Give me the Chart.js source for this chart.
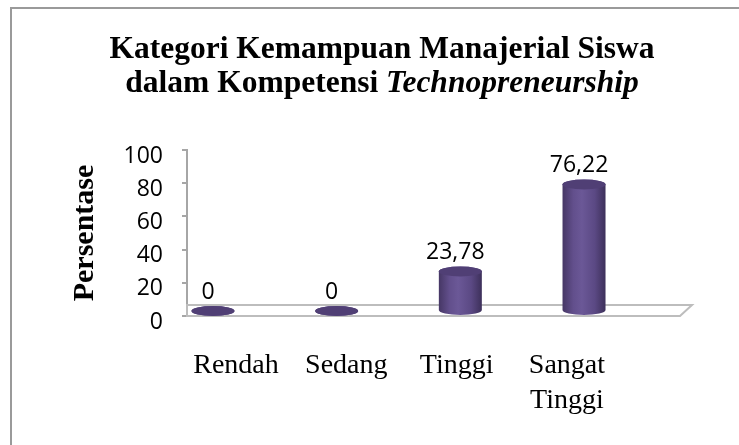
<!DOCTYPE html>
<html><head><meta charset="utf-8">
<script src="https://cdn.jsdelivr.net/npm/chart.js@4/dist/chart.umd.min.js"></script>
<style>html,body{margin:0;padding:0;background:#fff;}canvas{display:block;}</style>
</head><body>
<canvas id="c" width="739" height="445"></canvas>
<script>
// ---- data ----
const titleLine1 = 'Kategori Kemampuan Manajerial Siswa';
const titleLine2Plain = 'dalam Kompetensi ';
const titleLine2Italic = 'Technopreneurship';
const yAxisTitle = 'Persentase';
const categories = ['Rendah', 'Sedang', 'Tinggi', 'Sangat Tinggi'];
const values = [0, 0, 23.78, 76.22];
const yTicks = [0, 20, 40, 60, 80, 100];

// ---- style constants ----
const SERIF = '"Liberation Serif", "Times New Roman", serif';
const SANS = '"Open Sans", "Noto Sans", sans-serif';
const DEPTH_X = 12, DEPTH_Y = 11, BAR_SHIFT = -5, ELL_RY = 5;

function fmt(v) { return Number.isInteger(v) ? String(v) : v.toFixed(2).replace('.', ','); }

const deco = {
  id: 'deco',
  beforeDraw(chart) {
    const ctx = chart.ctx;
    ctx.save();
    ctx.fillStyle = '#fff';
    ctx.fillRect(0, 0, chart.width, chart.height);
    ctx.strokeStyle = '#9a9a9a';
    ctx.lineWidth = 2;
    ctx.beginPath();
    ctx.moveTo(11, chart.height);
    ctx.lineTo(11, 8);
    ctx.lineTo(chart.width, 8);
    ctx.stroke();
    ctx.restore();
  },
  beforeDatasetsDraw(chart) {
    const ctx = chart.ctx, a = chart.chartArea;
    const y0 = chart.scales.y.getPixelForValue(0);
    ctx.save();
    ctx.beginPath();
    ctx.moveTo(a.left, y0);
    ctx.lineTo(a.right, y0);
    ctx.lineTo(a.right + DEPTH_X, y0 - DEPTH_Y);
    ctx.lineTo(a.left, y0 - DEPTH_Y);
    ctx.closePath();
    ctx.fillStyle = '#ffffff';
    ctx.fill();
    ctx.strokeStyle = '#bdbdbd';
    ctx.lineWidth = 2;
    ctx.stroke();
    ctx.restore();
  },
  afterDatasetsDraw(chart) {
    const ctx = chart.ctx;
    const meta = chart.getDatasetMeta(0);
    ctx.save();
    meta.data.forEach((el, i) => {
      const cx = el.x, rx = el.width / 2;
      const top = el.y + BAR_SHIFT, bot = el.base + BAR_SHIFT;
      const g = ctx.createLinearGradient(cx - rx, 0, cx + rx, 0);
      g.addColorStop(0, '#463765');
      g.addColorStop(0.25, '#624f8c');
      g.addColorStop(0.45, '#6b5897');
      g.addColorStop(0.75, '#5b4984');
      g.addColorStop(1, '#3d305a');
      ctx.beginPath();
      ctx.moveTo(cx - rx, top);
      ctx.lineTo(cx - rx, bot);
      ctx.ellipse(cx, bot, rx, ELL_RY, 0, Math.PI, 0, true);
      ctx.lineTo(cx + rx, top);
      ctx.ellipse(cx, top, rx, ELL_RY, 0, 0, Math.PI, true);
      ctx.closePath();
      ctx.fillStyle = g;
      ctx.fill();
      ctx.beginPath();
      ctx.ellipse(cx, top, rx, ELL_RY, 0, 0, Math.PI * 2);
      ctx.fillStyle = '#503f75';
      ctx.fill();
      // data label
      ctx.fillStyle = '#000';
      ctx.font = '23px ' + SANS;
      ctx.textAlign = 'center';
      ctx.textBaseline = 'middle';
      ctx.fillText(fmt(values[i]), cx - 5, top - 19);
    });
    ctx.restore();
  },
  afterDraw(chart) {
    const ctx = chart.ctx;
    const cx = 382;
    ctx.save();
    ctx.fillStyle = '#000';
    ctx.textBaseline = 'alphabetic';
    ctx.textAlign = 'center';
    ctx.font = 'bold 31.5px ' + SERIF;
    ctx.fillText(titleLine1, cx, 58);
    const fPlain = 'bold 31.5px ' + SERIF, fItal = 'italic bold 31.5px ' + SERIF;
    ctx.font = fPlain; const w1 = ctx.measureText(titleLine2Plain).width;
    ctx.font = fItal; const w2 = ctx.measureText(titleLine2Italic).width;
    const sx = cx - (w1 + w2) / 2;
    ctx.textAlign = 'left';
    ctx.font = fPlain; ctx.fillText(titleLine2Plain, sx, 92);
    ctx.font = fItal; ctx.fillText(titleLine2Italic, sx + w1, 92);
    ctx.restore();
  }
};

new Chart(document.getElementById('c'), {
  type: 'bar',
  data: {
    datasets: [{
      data: values.map((v, i) => ({ x: i, y: v })),
      backgroundColor: 'rgba(0,0,0,0)',
      borderWidth: 0,
      barThickness: 43
    }]
  },
  options: {
    responsive: false,
    animation: false,
    devicePixelRatio: 1,
    layout: { padding: { top: 150, left: 12, right: 59, bottom: 0 } },
    plugins: { legend: { display: false }, tooltip: { enabled: false }, title: { display: false } },
    scales: {
      x: { type: 'linear', display: false, min: -0.21, max: 3.776, offset: false, grid: { offset: false } },
      xl: {
        type: 'linear', position: 'bottom', min: -0.444, max: 4.025, offset: false,
        afterBuildTicks: s => { s.ticks = categories.map((_, i) => ({ value: i })); },
        afterFit: s => { s.height = 129; },
        grid: { display: false, drawTicks: false, offset: false },
        border: { display: false },
        ticks: {
          autoSkip: false, maxRotation: 0, minRotation: 0, padding: 32, color: '#000',
          font: { family: SERIF, size: 28, lineHeight: 1.25 },
          callback: v => categories[v].split(' ')
        }
      },
      y: {
        type: 'linear', min: 0, max: 100,
        afterBuildTicks: s => { s.ticks = yTicks.map(v => ({ value: v })); },
        afterFit: s => { s.width = 175; },
        title: { display: true, text: yAxisTitle, color: '#000', font: { family: SERIF, size: 30, weight: 'bold' }, padding: { top: 55, bottom: 0 } },
        grid: { drawOnChartArea: false, drawTicks: true, tickLength: 5, color: '#a6a6a6', lineWidth: 2 },
        border: { display: true, color: '#a6a6a6', width: 2 },
        ticks: { padding: 19, labelOffset: 6, color: '#000', font: { family: SANS, size: 23 } }
      }
    }
  },
  plugins: [deco]
});
</script>
</body></html>
